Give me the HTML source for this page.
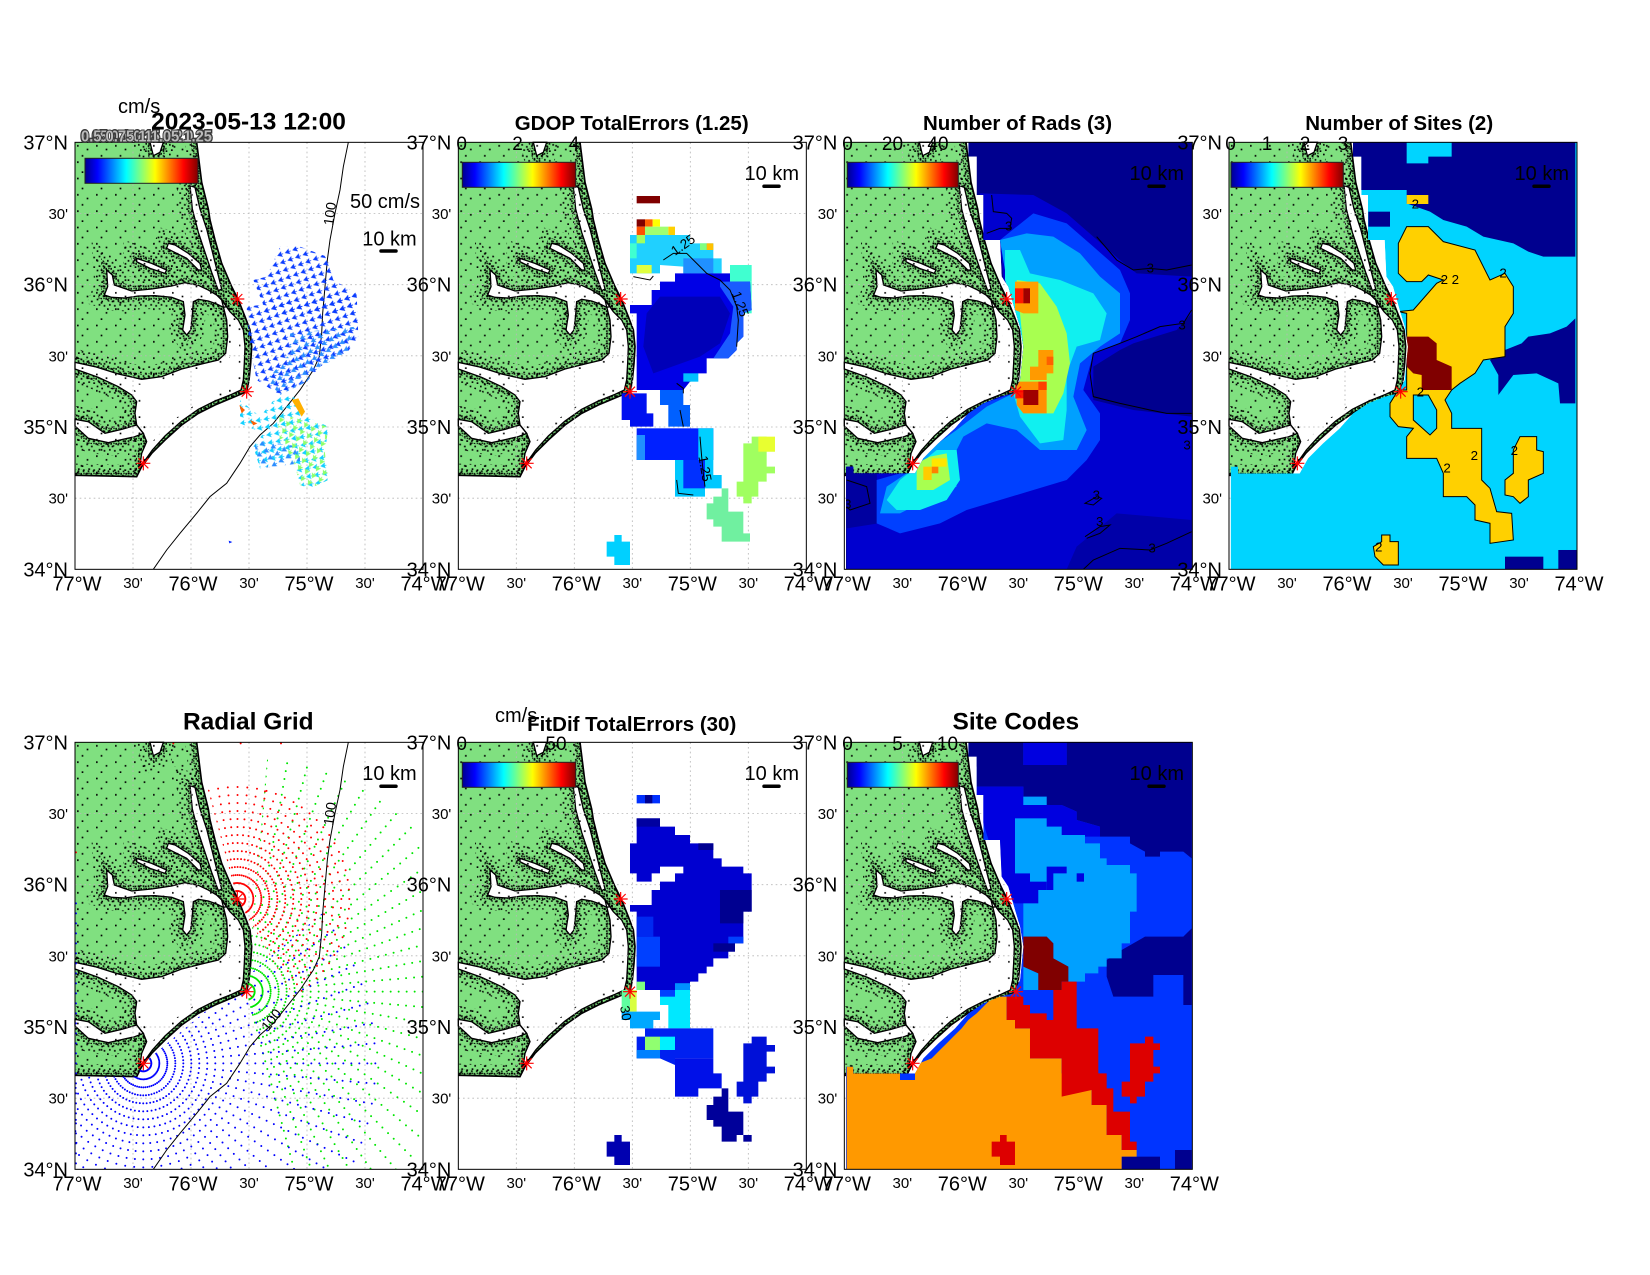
<!DOCTYPE html>
<html><head><meta charset="utf-8"><style>
html,body{margin:0;padding:0;background:#fff}
svg{display:block}
text{font-family:"Liberation Sans",Arial,Helvetica,sans-serif;fill:#000}
.b{font-size:20px}.s{font-size:15px}.e{text-anchor:end}.m{text-anchor:middle}
.t{font-weight:bold;text-anchor:middle}
.ct{font-size:19px;text-anchor:middle}
</style></head><body>
<svg width="1650" height="1275" viewBox="0 0 1650 1275" xmlns="http://www.w3.org/2000/svg">
<defs>
<linearGradient id="jet" x1="0" y1="0" x2="1" y2="0">
<stop offset="0" stop-color="#00008f"/><stop offset="0.11" stop-color="#0000ff"/><stop offset="0.365" stop-color="#00ffff"/><stop offset="0.62" stop-color="#ffff00"/><stop offset="0.873" stop-color="#ff0000"/><stop offset="1" stop-color="#800000"/>
</linearGradient>
<pattern id="dpA" width="15" height="15" patternUnits="userSpaceOnUse"><rect x="1" y="2" width="5" height="5" fill="#000"/><rect x="8" y="9" width="5" height="5" fill="#000"/><rect x="10" y="1" width="4" height="4" fill="#000"/></pattern>
<pattern id="dpB" width="31" height="29" patternUnits="userSpaceOnUse"><rect x="3" y="5" width="5" height="5" fill="#000"/><rect x="17" y="11" width="5" height="5" fill="#000"/><rect x="9" y="21" width="5" height="5" fill="#000"/><rect x="24" y="24" width="5" height="5" fill="#000"/></pattern>
<pattern id="dpC" width="57" height="49" patternUnits="userSpaceOnUse"><rect x="6" y="8" width="5" height="5" fill="#000"/><rect x="35" y="19" width="5" height="5" fill="#000"/><rect x="20" y="38" width="5" height="5" fill="#000"/></pattern>
<pattern id="arB" width="24" height="24" patternUnits="userSpaceOnUse" patternTransform="rotate(-20)"><path d="M3,12 L15,5 L13,12 L15,19 Z M13,12 H20" fill="#0a3cff" stroke="#0a3cff" stroke-width="2"/></pattern>
<pattern id="arL" width="24" height="24" patternUnits="userSpaceOnUse" patternTransform="rotate(-30) translate(5,7)"><path d="M3,12 L15,5 L13,12 L15,19 Z M13,12 H20" fill="#2a8cff" stroke="#2a8cff" stroke-width="2"/></pattern>
<pattern id="arC" width="24" height="24" patternUnits="userSpaceOnUse" patternTransform="rotate(-10)"><path d="M3,12 L15,5 L13,12 L15,19 Z M13,12 H20" fill="#10d0ff" stroke="#10d0ff" stroke-width="2"/></pattern>
<pattern id="arG" width="24" height="24" patternUnits="userSpaceOnUse" patternTransform="rotate(-60) translate(8,4)"><path d="M3,12 L15,5 L13,12 L15,19 Z M13,12 H20" fill="#8cff6a" stroke="#8cff6a" stroke-width="2"/></pattern>
<clipPath id="axc"><rect x="0" y="0" width="1044" height="1281"/></clipPath>
<clipPath id="lc"><path d="M0,0 L365,0 L380,120 L400,200 L405,233 L420,293 L440,363 L470,433 L490,473 L510,523 L525,563 L530,613 L527,663 L522,713 L515,748 L480,763 L420,788 L370,813 L320,848 L270,893 L230,933 L200,973 L185,1003 L0,999 Z"/></clipPath>
<mask id="lm" maskUnits="userSpaceOnUse" x="-10" y="-10" width="1070" height="1300">
<path d="M0,0 L365,0 L380,120 L400,200 L405,233 L420,293 L440,363 L470,433 L490,473 L510,523 L525,563 L530,613 L527,663 L522,713 L515,748 L480,763 L420,788 L370,813 L320,848 L270,893 L230,933 L200,973 L185,1003 L0,999 Z" fill="#fff"/>
<use href="#wat" fill="#000"/>
</mask>
<clipPath id="oc"><path d="M372,0 L1044,0 L1044,1281 L5,1281 L5,973 L27,973 L27,993 L167,993 L212,993 L237,948 L282,903 L332,858 L372,813 L417,783 L467,763 L507,753 L527,713 L537,613 L527,553 L512,503 L492,433 L472,403 L467,293 L417,293 L417,158 L397,158 L397,43 L372,43 Z"/></clipPath>
<clipPath id="seac"><path d="M365,0 L1044,0 L1044,1281 L0,1281 L0,1003 L185,1003 L200,973 L230,933 L270,893 L320,848 L370,813 L420,788 L480,763 L515,748 L522,713 L527,663 L530,613 L525,563 L510,523 L490,473 L470,433 L440,363 L420,293 L405,233 L400,200 L380,120 Z"/></clipPath>
<clipPath id="wA"><path d="M487,470 L383,84 L687,124 L873,367 L833,670 L687,816 Z"/></clipPath>
<clipPath id="wB"><path d="M515,748 L585,-49 L1081,182 L1312,678 L1170,1207 L695,1528 Z"/></clipPath>
<clipPath id="wC"><path d="M205,963 L818,449 L1005,963 L771,1529 L205,1763 L-361,1529 L-595,963 L-361,397 L-108,227 Z"/></clipPath>
<path id="oceanp" d="M372,0 L1044,0 L1044,1281 L5,1281 L5,973 L27,973 L27,993 L167,993 L212,993 L237,948 L282,903 L332,858 L372,813 L417,783 L467,763 L507,753 L527,713 L537,613 L527,553 L512,503 L492,433 L472,403 L467,293 L417,293 L417,158 L397,158 L397,43 L372,43 Z"/>
<path id="coast" d="M365,0 L380,120 L400,200 L405,233 L420,293 L440,363 L470,433 L490,473 L510,523 L525,563 L530,613 L527,663 L522,713 L515,748 L480,763 L420,788 L370,813 L320,848 L270,893 L230,933 L200,973 L185,1003 L0,999"/>
<g id="wat">
<path d="M95,383 L112,398 L118,428 L170,446 L230,440 L290,431 L330,421 L370,429 L400,443 L425,458 L445,478 L455,493 L445,495 L425,485 L400,476 L370,471 L355,478 L352,518 L347,563 L335,578 L323,563 L330,518 L325,478 L290,465 L240,460 L190,461 L150,467 L110,465 L88,458 L98,433 Z"/>
<path d="M440,473 L465,508 L490,533 L505,563 L510,613 L508,663 L505,713 L498,743 L470,756 L420,776 L370,801 L320,836 L270,881 L232,923 L205,961 L195,968 L200,933 L215,898 L205,873 L185,848 L180,813 L185,778 L170,758 L130,733 L70,705 L0,680 L0,660 L60,673 L130,695 L200,711 L260,703 L320,680 L380,665 L430,653 L452,633 L458,583 L455,533 Z"/>
<path d="M0,831 L40,838 L90,873 L140,861 L185,848 L205,873 L180,883 L100,901 L40,888 L0,851 Z"/>
<path d="M280,303 L300,308 L340,333 L375,363 L380,383 L370,383 L335,348 L295,328 L275,318 Z"/>
<path d="M185,348 L230,363 L275,383 L270,393 L225,378 L185,358 Z"/>
<path d="M345,130 L360,135 L375,200 L395,260 L410,320 L425,380 L440,440 L430,445 L410,390 L390,330 L370,270 L352,200 Z"/>
<path d="M225,0 L265,0 L255,30 L235,40 Z"/>
</g>
<g id="land">
<path d="M0,0 L365,0 L380,120 L400,200 L405,233 L420,293 L440,363 L470,433 L490,473 L510,523 L525,563 L530,613 L527,663 L522,713 L515,748 L480,763 L420,788 L370,813 L320,848 L270,893 L230,933 L200,973 L185,1003 L0,999 Z" fill="#80e080"/>
<use href="#wat" fill="#fff"/>
<g mask="url(#lm)">
<rect x="0" y="0" width="560" height="1010" fill="url(#dpC)"/>
<use href="#wat" fill="none" stroke="url(#dpB)" stroke-width="80"/>
<use href="#coast" fill="none" stroke="url(#dpB)" stroke-width="70"/>
<use href="#wat" fill="none" stroke="url(#dpA)" stroke-width="30"/>
<use href="#coast" fill="none" stroke="url(#dpA)" stroke-width="34"/>
</g>
<g clip-path="url(#lc)">
<use href="#wat" fill="none" stroke="url(#dpC)" stroke-width="34"/>
</g>
<use href="#wat" fill="none" stroke="#000" stroke-width="4"/>
<use href="#coast" fill="none" stroke="#000" stroke-width="5"/>
</g>
<g id="grid"><path d="M174,0V1281M348,0V1281M522,0V1281M696,0V1281M870,0V1281M0,213.5H1044M0,427H1044M0,640.5H1044M0,854H1044M0,1067.5H1044" stroke="#b8b8b8" stroke-width="2.5" stroke-dasharray="5 9" fill="none"/></g>
<g id="sites"><path d="M466,470h42M487,449v42M472,455l30,30M502,455l-30,30M494,748h42M515,727v42M500,733l30,30M530,733l-30,30M184,963h42M205,942v42M190,948l30,30M220,948l-30,30" stroke="#f00" stroke-width="3.5" fill="none"/></g>
<path id="c100" d="M820,0 L805,73 L795,143 L780,213 L765,293 L757,353 L750,433 L743,513 L740,573 L733,643 L715,683 L675,743 L635,793 L595,843 L555,878 L525,913 L495,963 L455,1023 L405,1063 L365,1113 L315,1173 L275,1223 L235,1281" fill="none" stroke="#000" stroke-width="3"/>
<rect id="frame" x="0" y="0" width="1044" height="1281" fill="none" stroke="#000" stroke-width="3"/>
</defs>

<!-- ============ PANEL 1 ============ -->
<g transform="translate(75,142.33) scale(0.33333)">
<use href="#land"/><use href="#grid"/>
<g clip-path="url(#axc)">
<use href="#c100"/>
<g transform="translate(-225,-187)">
<path d="M840,500 L900,500 L980,530 L1000,600 L1070,640 L1070,700 L800,700 L760,600 L800,590 Z" fill="url(#arB)"/>
<path d="M740,680 L1070,640 L1075,770 L1040,820 L960,860 L920,905 L840,945 L770,900 L750,800 L745,760 Z" fill="url(#arB)"/>
<path d="M870,760 L1070,740 L1040,820 L960,860 L920,905 L840,945 L800,900 L870,820 Z" fill="url(#arL)"/>
<path d="M720,960 L780,1010 L830,950 L880,950 L920,1010 L985,1040 L975,1120 L985,1200 L930,1225 L900,1215 L880,1140 L780,1165 L760,1100 L790,1060 L720,1030 Z" fill="url(#arC)"/>
<path d="M760,1080 L900,1100 L900,1150 L780,1165 Z" fill="url(#arL)"/>
<path d="M830,1000 L985,1040 L975,1120 L985,1200 L930,1225 L900,1215 L880,1140 L840,1080 Z" fill="url(#arG)"/>
<path d="M875,960 L895,955 L915,995 L905,1010 Z" fill="#ffb000"/>
<path d="M718,975 L735,990 L725,1000 Z M750,1020 L772,1030 L760,1036 Z" fill="#ff6000"/>
<path d="M686,1382 L697,1386 L688,1390 Z" fill="#0020ff"/>
</g></g>
<use href="#sites"/><use href="#frame"/>
</g>

<!-- ============ PANEL 2 ============ -->
<g transform="translate(458.33,142.33) scale(0.33333)">
<use href="#land"/><use href="#grid"/>
<g clip-path="url(#axc)"><g transform="translate(-115,-187)">
<rect x="650" y="348" width="70" height="22" fill="#800000"/>
<path d="M630,465 L810,465 L810,490 L880,490 L880,535 L905,535 L905,580 L790,580 L790,560 L720,555 L720,580 L630,580 Z" fill="#20d0ff"/>
<rect x="630" y="490" width="20" height="45" fill="#40ffd0"/>
<rect x="650" y="555" width="45" height="25" fill="#e0ff40"/>
<rect x="840" y="490" width="20" height="20" fill="#80ff80"/>
<rect x="860" y="490" width="20" height="20" fill="#ffc000"/>
<rect x="790" y="535" width="90" height="45" fill="#2090ff"/>
<rect x="650" y="465" width="25" height="25" fill="#a0ff60"/>
<rect x="650" y="418" width="25" height="22" fill="#800000"/>
<rect x="675" y="418" width="23" height="22" fill="#ff6000"/>
<rect x="698" y="418" width="22" height="22" fill="#ffff00"/>
<rect x="650" y="440" width="25" height="25" fill="#ff5000"/>
<rect x="675" y="440" width="70" height="25" fill="#a0ff70"/>
<rect x="745" y="440" width="20" height="25" fill="#ffd000"/>
<rect x="930" y="555" width="65" height="50" fill="#40ffd0"/>
<rect x="970" y="605" width="25" height="95" fill="#40ffd0"/>
<path d="M765,580 L930,580 L930,605 L990,605 L995,690 L970,700 L970,770 L950,790 L950,810 L925,835 L860,835 L860,880 L835,880 L810,905 L790,930 L650,930 L650,700 L630,700 L630,675 L695,675 L695,630 L720,630 L720,605 L765,605 Z" fill="#0000e6"/>
<path d="M720,650 L900,650 L930,700 L900,790 L840,830 L700,880 L670,800 L680,700 Z" fill="#0000b8"/>
<path d="M900,605 L990,605 L995,690 L970,700 L970,770 L950,790 L950,810 L925,835 L880,835 L930,760 L940,680 L900,620 Z" fill="#1a5cff"/>
<rect x="790" y="880" width="45" height="25" fill="#00c0ff"/>
<path d="M605,940 L680,940 L680,1000 L700,1000 L700,1040 L630,1040 L630,1020 L605,1020 Z" fill="#0010f0"/>
<path d="M720,930 L790,930 L790,975 L810,975 L810,1040 L745,1040 L745,975 L720,975 Z" fill="#0060ff"/>
<rect x="650" y="1045" width="230" height="95" fill="#0020ff"/>
<rect x="650" y="1065" width="25" height="75" fill="#2090ff"/>
<rect x="835" y="1045" width="45" height="95" fill="#00d0ff"/>
<path d="M765,1140 L880,1140 L880,1185 L905,1185 L905,1225 L855,1225 L855,1250 L765,1250 Z" fill="#00c8ff"/>
<rect x="790" y="1140" width="65" height="85" fill="#0030ff"/>
<path d="M583,1365 L605,1365 L605,1385 L630,1385 L630,1455 L583,1455 L583,1430 L560,1430 L560,1385 L583,1385 Z" fill="#00d0ff"/>
<path d="M995,1070 L1040,1070 L1040,1090 L1065,1090 L1065,1115 L1040,1115 L1040,1160 L1065,1160 L1065,1180 L1040,1180 L1040,1205 L1015,1205 L1015,1250 L995,1250 L995,1270 L970,1270 L970,1250 L950,1250 L950,1205 L970,1205 L970,1090 L995,1090 Z" fill="#a0ff60"/>
<rect x="1015" y="1070" width="50" height="45" fill="#e8ff30"/>
<path d="M905,1225 L925,1225 L925,1295 L970,1295 L970,1360 L990,1360 L990,1385 L905,1385 L905,1340 L880,1340 L880,1318 L860,1318 L860,1270 L880,1270 L880,1250 L905,1250 Z" fill="#70f0a0"/>
<g fill="none" stroke="#000" stroke-width="3">
<path d="M640,590 L690,600 L700,588"/>
<path d="M730,540 L760,520 L800,520 L840,560 L860,580 L900,600 L930,630 L950,680 L955,720 L950,800"/>
<path d="M770,910 L790,925 L790,940 M780,990 L790,1040"/>
<path d="M840,1070 L845,1130 L850,1180 L855,1220"/>
<path d="M770,1200 L775,1240 L820,1245"/>
</g>
<text x="765" y="528" font-size="40" transform="rotate(-35 765 528)">1.25</text>
<text x="935" y="640" font-size="40" transform="rotate(70 935 640)">1.25</text>
<text x="835" y="1130" font-size="40" transform="rotate(80 835 1130)">1.25</text>
</g></g>
<use href="#sites"/><use href="#frame"/>
</g>

<!-- ============ PANEL 3 ============ -->
<g transform="translate(844.33,142.33) scale(0.33333)">
<use href="#land"/><use href="#grid"/>
<g clip-path="url(#oc)">
<use href="#oceanp" fill="#00008f"/>
<g transform="translate(-133,-187)">
<path d="M540,340 L700,345 L800,400 L880,470 L960,540 L1010,580 L1175,590 L1175,700 L1130,750 L1000,790 L960,810 L880,860 L880,960 L1000,990 L1175,1010 L1175,1468 L140,1468 L140,1150 L500,980 L600,940 L640,930 L600,480 L540,480 Z" fill="#0000cf"/>
<path d="M140,1160 L230,1180 L235,1330 L140,1345 Z" fill="#0000a0"/>
<path d="M800,1468 L830,1400 L950,1300 L1175,1320 L1175,1468 Z" fill="#0000a8"/>
<path d="M600,480 L700,400 L800,430 L880,500 L960,570 L990,640 L990,720 L960,790 L880,820 L850,930 L900,1000 L900,1080 L860,1140 L800,1200 L700,1230 L600,1260 L500,1290 L420,1330 L300,1360 L230,1330 L230,1200 L300,1180 L345,1180 L370,1135 L415,1090 L465,1045 L505,1000 L550,970 L640,940 L660,900 L670,800 L645,690 L620,600 Z" fill="#0040ff"/>
<path d="M600,480 L680,460 L760,470 L840,520 L900,590 L960,640 L960,760 L900,800 L840,850 L820,950 L860,1050 L830,1110 L720,1110 L650,1050 L560,1030 L490,1070 L460,1130 L470,1220 L400,1250 L300,1300 L240,1300 L260,1220 L350,1160 L400,1100 L470,1050 L560,980 L640,940 L660,900 L670,800 L645,690 L620,600 Z" fill="#00a0ff"/>
<path d="M615,510 L660,510 L690,580 L780,600 L880,640 L920,700 L900,780 L830,800 L800,880 L800,990 L790,1080 L720,1090 L660,1010 L640,940 L660,900 L670,800 L645,690 L615,600 Z" fill="#10f0f0"/>
<path d="M350,1160 L410,1110 L470,1110 L480,1200 L440,1260 L360,1290 L290,1290 L260,1260 L300,1200 Z" fill="#10f0f0"/>
<path d="M650,600 L720,610 L770,680 L800,760 L810,850 L790,940 L760,1000 L680,1000 L650,960 L660,900 L670,800 L660,700 Z" fill="#a8ff50"/>
<path d="M350,1150 L390,1130 L440,1120 L450,1200 L400,1230 L350,1230 Z" fill="#a8ff50"/>
<path d="M645,605 L715,605 L715,700 L670,700 L645,690 Z" fill="#ffa000"/>
<path d="M715,810 L760,810 L760,880 L740,880 L740,900 L690,900 L690,860 L715,860 Z" fill="#ff9a00"/>
<path d="M650,905 L740,905 L740,1000 L670,1000 L650,975 Z" fill="#ff9000"/>
<rect x="645" y="625" width="25" height="45" fill="#ff1a00"/>
<rect x="650" y="930" width="40" height="25" fill="#ff1a00"/>
<rect x="715" y="905" width="25" height="25" fill="#ff4000"/>
<rect x="740" y="830" width="20" height="25" fill="#ff6000"/>
<rect x="670" y="625" width="20" height="45" fill="#a00000"/>
<rect x="670" y="930" width="45" height="45" fill="#a00000"/>
<rect x="395" y="1135" width="45" height="25" fill="#ffe600"/>
<rect x="395" y="1160" width="20" height="20" fill="#ff8000"/>
<rect x="370" y="1160" width="25" height="40" fill="#ffcc00"/>
<g fill="none" stroke="#000" stroke-width="3">
<path d="M560,460 L600,445 L630,445 L635,415 L620,400 L580,395 L575,345"/>
<path d="M890,470 L950,540 L1000,570 L1050,565 L1100,570 L1175,555"/>
<path d="M1175,690 L1150,730 L1080,740 L1010,770 L960,790 L880,820 L870,880 L880,950 L960,970 L1050,990 L1100,1000 L1175,1000"/>
<path d="M1175,1355 L1100,1390 L1050,1410 L960,1405 L880,1440 L850,1468"/>
<path d="M855,1370 L900,1340 L930,1335 L900,1360 L860,1375"/>
<path d="M855,1270 L890,1250 L905,1255 L880,1275 Z"/>
<path d="M140,1200 L200,1220 L210,1270 L150,1290 L140,1280"/>
</g>
<g font-size="40"><text x="615" y="452">3</text><text x="1040" y="578">3</text><text x="1135" y="748">3</text><text x="1150" y="1108">3</text><text x="878" y="1258">3</text><text x="888" y="1338">3</text><text x="1045" y="1418">3</text><text x="132" y="1285">3</text></g>
</g></g>
<use href="#sites"/><use href="#frame"/>
</g>

<!-- ============ PANEL 4 ============ -->
<g transform="translate(1229,142.33) scale(0.33333)">
<use href="#land"/><use href="#grid"/>
<g clip-path="url(#oc)">
<use href="#oceanp" fill="#00d4ff"/>
<g transform="translate(-237,-187)">
<path d="M600,187 L1276,187 L1276,530 L1180,530 L1135,515 L1090,490 L1000,470 L950,440 L880,420 L840,395 L770,370 L770,330 L630,330 L600,300 Z" fill="#00008f"/>
<path d="M770,187 L905,187 L905,230 L835,230 L835,250 L770,250 Z" fill="#00d4ff"/>
<rect x="655" y="395" width="65" height="45" fill="#00008f"/>
<path d="M1135,770 L1200,760 L1250,740 L1276,715 L1276,970 L1230,970 L1225,910 L1160,880 L1090,885 L1045,945 L1045,885 L1020,840 L1065,810 L1115,790 Z" fill="#00008f"/>
<rect x="1065" y="1430" width="115" height="40" fill="#00008f"/>
<rect x="1225" y="1410" width="55" height="60" fill="#00008f"/>
<g fill="#ffd000" stroke="#000" stroke-width="3">
<path d="M770,440 L835,440 L880,485 L975,510 L1000,560 L1020,600 L1065,580 L1090,620 L1090,700 L1065,740 L1065,830 L1000,840 L975,880 L930,910 L905,930 L885,960 L905,1000 L905,1045 L995,1045 L995,1200 L1020,1225 L1040,1295 L1085,1300 L1090,1380 L1020,1390 L1020,1330 L975,1320 L975,1275 L950,1250 L880,1250 L880,1180 L860,1135 L770,1135 L770,1070 L790,1045 L745,1040 L720,1010 L720,970 L745,930 L770,930 L770,700 L745,695 L790,690 L860,610 L880,600 L835,585 L815,605 L770,605 L745,580 L745,490 Z"/>
<path d="M1110,1070 L1160,1070 L1160,1110 L1180,1115 L1180,1180 L1135,1200 L1135,1250 L1110,1270 L1090,1250 L1065,1245 L1065,1200 L1090,1180 L1090,1110 Z"/>
<path d="M695,1365 L720,1365 L720,1385 L745,1385 L745,1455 L700,1455 L675,1430 L670,1400 L695,1385 Z"/>
<path d="M770,345 L835,345 L835,372 L770,372 Z" stroke="none"/>
</g>
<path d="M790,945 L835,945 L860,990 L860,1045 L840,1065 L790,1020 Z" fill="#00d4ff" stroke="#000" stroke-width="3"/>
<path d="M770,770 L835,770 L860,790 L860,840 L905,860 L905,930 L815,930 L815,885 L790,880 L770,860 Z" fill="#800000"/>
<g font-size="40"><text x="785" y="385">2</text><text x="872" y="612">2</text><text x="905" y="612">2</text><text x="1048" y="592">2</text><text x="800" y="950">2</text><text x="962" y="1140">2</text><text x="880" y="1178">2</text><text x="1082" y="1125">2</text><text x="675" y="1415">2</text></g>
</g></g>
<use href="#sites"/><use href="#frame"/>
</g>

<!-- ============ PANEL 5 ============ -->
<g transform="translate(75,742.33) scale(0.33333)">
<use href="#land"/><use href="#grid"/>
<g clip-path="url(#seac)" fill="none" stroke-linecap="round" stroke-width="6">
<g clip-path="url(#wB)" stroke="#00e600">
<circle cx="515" cy="748" r="24" stroke-dasharray="0 2.094"/><circle cx="515" cy="748" r="48" stroke-dasharray="0 4.189"/><circle cx="515" cy="748" r="72" stroke-dasharray="0 6.283"/><circle cx="515" cy="748" r="96" stroke-dasharray="0 8.378"/><circle cx="515" cy="748" r="120" stroke-dasharray="0 10.472"/><circle cx="515" cy="748" r="144" stroke-dasharray="0 12.566"/><circle cx="515" cy="748" r="168" stroke-dasharray="0 14.661"/><circle cx="515" cy="748" r="192" stroke-dasharray="0 16.755"/><circle cx="515" cy="748" r="216" stroke-dasharray="0 18.85"/><circle cx="515" cy="748" r="240" stroke-dasharray="0 20.944"/><circle cx="515" cy="748" r="264" stroke-dasharray="0 23.038"/><circle cx="515" cy="748" r="288" stroke-dasharray="0 25.133"/><circle cx="515" cy="748" r="312" stroke-dasharray="0 27.227"/><circle cx="515" cy="748" r="336" stroke-dasharray="0 29.322"/><circle cx="515" cy="748" r="360" stroke-dasharray="0 31.416"/><circle cx="515" cy="748" r="384" stroke-dasharray="0 33.51"/><circle cx="515" cy="748" r="408" stroke-dasharray="0 35.605"/><circle cx="515" cy="748" r="432" stroke-dasharray="0 37.699"/><circle cx="515" cy="748" r="456" stroke-dasharray="0 39.794"/><circle cx="515" cy="748" r="480" stroke-dasharray="0 41.888"/><circle cx="515" cy="748" r="504" stroke-dasharray="0 43.982"/><circle cx="515" cy="748" r="528" stroke-dasharray="0 46.077"/><circle cx="515" cy="748" r="552" stroke-dasharray="0 48.171"/><circle cx="515" cy="748" r="576" stroke-dasharray="0 50.265"/><circle cx="515" cy="748" r="600" stroke-dasharray="0 52.36"/><circle cx="515" cy="748" r="624" stroke-dasharray="0 54.454"/><circle cx="515" cy="748" r="648" stroke-dasharray="0 56.549"/><circle cx="515" cy="748" r="672" stroke-dasharray="0 58.643"/><circle cx="515" cy="748" r="696" stroke-dasharray="0 60.737"/>
</g>
<g clip-path="url(#wC)" stroke="#0000ff">
<circle cx="205" cy="963" r="24" stroke-dasharray="0 2.094"/><circle cx="205" cy="963" r="48" stroke-dasharray="0 4.189"/><circle cx="205" cy="963" r="72" stroke-dasharray="0 6.283"/><circle cx="205" cy="963" r="96" stroke-dasharray="0 8.378"/><circle cx="205" cy="963" r="120" stroke-dasharray="0 10.472"/><circle cx="205" cy="963" r="144" stroke-dasharray="0 12.566"/><circle cx="205" cy="963" r="168" stroke-dasharray="0 14.661"/><circle cx="205" cy="963" r="192" stroke-dasharray="0 16.755"/><circle cx="205" cy="963" r="216" stroke-dasharray="0 18.85"/><circle cx="205" cy="963" r="240" stroke-dasharray="0 20.944"/><circle cx="205" cy="963" r="264" stroke-dasharray="0 23.038"/><circle cx="205" cy="963" r="288" stroke-dasharray="0 25.133"/><circle cx="205" cy="963" r="312" stroke-dasharray="0 27.227"/><circle cx="205" cy="963" r="336" stroke-dasharray="0 29.322"/><circle cx="205" cy="963" r="360" stroke-dasharray="0 31.416"/><circle cx="205" cy="963" r="384" stroke-dasharray="0 33.51"/><circle cx="205" cy="963" r="408" stroke-dasharray="0 35.605"/><circle cx="205" cy="963" r="432" stroke-dasharray="0 37.699"/><circle cx="205" cy="963" r="456" stroke-dasharray="0 39.794"/><circle cx="205" cy="963" r="480" stroke-dasharray="0 41.888"/><circle cx="205" cy="963" r="504" stroke-dasharray="0 43.982"/><circle cx="205" cy="963" r="528" stroke-dasharray="0 46.077"/><circle cx="205" cy="963" r="552" stroke-dasharray="0 48.171"/><circle cx="205" cy="963" r="576" stroke-dasharray="0 50.265"/><circle cx="205" cy="963" r="600" stroke-dasharray="0 52.36"/><circle cx="205" cy="963" r="624" stroke-dasharray="0 54.454"/><circle cx="205" cy="963" r="648" stroke-dasharray="0 56.549"/><circle cx="205" cy="963" r="672" stroke-dasharray="0 58.643"/><circle cx="205" cy="963" r="696" stroke-dasharray="0 60.737"/>
</g>
<g clip-path="url(#wA)" stroke="#ff0000">
<circle cx="487" cy="470" r="24" stroke-dasharray="0 2.094"/><circle cx="487" cy="470" r="48" stroke-dasharray="0 4.189"/><circle cx="487" cy="470" r="72" stroke-dasharray="0 6.283"/><circle cx="487" cy="470" r="96" stroke-dasharray="0 8.378"/><circle cx="487" cy="470" r="120" stroke-dasharray="0 10.472"/><circle cx="487" cy="470" r="144" stroke-dasharray="0 12.566"/><circle cx="487" cy="470" r="168" stroke-dasharray="0 14.661"/><circle cx="487" cy="470" r="192" stroke-dasharray="0 16.755"/><circle cx="487" cy="470" r="216" stroke-dasharray="0 18.85"/><circle cx="487" cy="470" r="240" stroke-dasharray="0 20.944"/><circle cx="487" cy="470" r="264" stroke-dasharray="0 23.038"/><circle cx="487" cy="470" r="288" stroke-dasharray="0 25.133"/><circle cx="487" cy="470" r="312" stroke-dasharray="0 27.227"/><circle cx="487" cy="470" r="336" stroke-dasharray="0 29.322"/>
</g>
</g>
<line x1="3" y1="483" x2="3" y2="1281" stroke="#0000ff" stroke-width="6" stroke-linecap="round" stroke-dasharray="0 30"/>
<g fill="#f00"><circle cx="295" cy="3" r="3"/><circle cx="497" cy="3" r="3"/><circle cx="618" cy="3" r="3"/><circle cx="570" cy="147" r="3"/><circle cx="3" cy="330" r="3"/></g>
<use href="#c100"/>
<use href="#sites"/><use href="#frame"/>
</g>

<!-- ============ PANEL 6 ============ -->
<g transform="translate(458.33,742.33) scale(0.33333)">
<use href="#land"/><use href="#grid"/>
<g clip-path="url(#axc)"><g transform="translate(-115,-157)">
<path d="M650,315 L720,315 L720,340 L650,340 Z" fill="#0030ff"/>
<rect x="675" y="315" width="22" height="25" fill="#000090"/>
<path d="M650,385 L720,385 L720,410 L765,410 L765,435 L810,435 L810,460 L880,460 L880,505 L905,505 L905,530 L970,530 L970,550 L995,550 L995,665 L970,665 L970,760 L945,760 L945,785 L925,785 L925,805 L880,805 L880,830 L860,830 L860,850 L835,850 L835,875 L810,875 L810,900 L650,900 L650,665 L630,665 L630,645 L695,645 L695,600 L720,600 L720,575 L765,575 L765,550 L790,550 L790,530 L720,530 L720,550 L695,550 L695,575 L650,575 L650,550 L630,550 L630,460 L650,460 Z" fill="#0000d0"/>
<rect x="650" y="740" width="70" height="90" fill="#0040ff"/>
<rect x="650" y="680" width="50" height="60" fill="#0028f0"/>
<path d="M900,600 L995,600 L995,665 L970,665 L970,700 L900,700 Z" fill="#000090"/>
<rect x="835" y="460" width="45" height="20" fill="#000090"/>
<rect x="650" y="385" width="70" height="25" fill="#0000a0"/>
<rect x="880" y="760" width="65" height="25" fill="#000090"/>
<rect x="925" y="740" width="45" height="20" fill="#0040ff"/>
<rect x="650" y="875" width="25" height="25" fill="#80ff80"/>
<rect x="630" y="900" width="20" height="65" fill="#d8ff40"/>
<rect x="605" y="900" width="25" height="65" fill="#60ffa0"/>
<path d="M605,965 L720,965 L720,990 L700,990 L700,1015 L630,1015 L630,990 L605,990 Z" fill="#00a8ff"/>
<path d="M765,880 L810,880 L810,1015 L745,1015 L745,945 L720,945 L720,900 L765,900 Z" fill="#00e8ff"/>
<rect x="720" y="900" width="45" height="20" fill="#0040ff"/>
<rect x="765" y="880" width="45" height="20" fill="#0090ff"/>
<path d="M675,1015 L880,1015 L880,1105 L765,1105 L765,1125 L720,1105 L650,1105 L650,1040 L675,1040 Z" fill="#0020f0"/>
<rect x="675" y="1040" width="45" height="40" fill="#90ff70"/>
<rect x="720" y="1040" width="45" height="40" fill="#00f0ff"/>
<rect x="650" y="1080" width="70" height="25" fill="#0080ff"/>
<path d="M765,1105 L880,1105 L880,1150 L905,1150 L905,1195 L835,1195 L835,1220 L765,1220 Z" fill="#0010e8"/>
<path d="M905,1195 L925,1195 L925,1265 L970,1265 L970,1335 L950,1335 L950,1355 L905,1355 L905,1310 L880,1310 L880,1290 L860,1290 L860,1245 L880,1245 L880,1220 L905,1220 Z" fill="#00009a"/>
<path d="M995,1040 L1040,1040 L1040,1065 L1065,1065 L1065,1085 L1040,1085 L1040,1130 L1065,1130 L1065,1150 L1040,1150 L1040,1175 L1015,1175 L1015,1220 L995,1220 L995,1240 L970,1240 L970,1220 L950,1220 L950,1175 L970,1175 L970,1060 L995,1060 Z" fill="#0010d8"/>
<rect x="970" y="1335" width="25" height="20" fill="#00009a"/>
<path d="M583,1335 L605,1335 L605,1355 L630,1355 L630,1425 L583,1425 L583,1400 L560,1400 L560,1355 L583,1355 Z" fill="#0000b0"/>
<text x="600" y="950" font-size="40" transform="rotate(80 600 950)">30</text>
</g></g>
<use href="#sites"/><use href="#frame"/>
</g>

<!-- ============ PANEL 7 ============ -->
<g transform="translate(844.33,742.33) scale(0.33333)">
<use href="#land"/><use href="#grid"/>
<g clip-path="url(#oc)">
<use href="#oceanp" fill="#0034ff"/>
<g transform="translate(-133,-157)">
<path d="M505,157 L670,157 L670,225 L800,225 L800,157 L1175,157 L1175,505 L1150,485 L1080,485 L1080,500 L1035,500 L1035,485 L990,460 L990,440 L900,440 L900,410 L830,390 L830,365 L785,345 L740,345 L740,320 L670,320 L670,290 L530,290 L530,230 L505,230 Z" fill="#00008f"/>
<rect x="670" y="157" width="130" height="68" fill="#0000e0"/>
<path d="M965,780 L1035,740 L1150,740 L1175,715 L1175,945 L1150,945 L1150,855 L1060,855 L1060,920 L940,920 L920,860 L920,810 Z" fill="#00008f"/>
<rect x="965" y="1400" width="115" height="45" fill="#00008f"/>
<path d="M1125,1380 L1175,1380 L1175,1445 L1125,1445 Z" fill="#00008f"/>
<path d="M530,290 L670,290 L670,345 L645,345 L645,550 L690,550 L690,575 L740,575 L740,600 L715,600 L715,640 L645,640 L620,620 L600,550 L575,480 L550,400 L530,345 Z" fill="#0000e0"/>
<path d="M740,345 L785,345 L830,365 L830,390 L900,410 L900,440 L855,440 L855,435 L785,435 L785,410 L740,410 L740,385 L645,385 L645,345 Z" fill="#0000e0"/>
<path d="M645,385 L740,385 L740,410 L785,410 L785,435 L855,435 L855,460 L900,460 L900,505 L920,505 L920,525 L990,525 L990,550 L1010,550 L1010,665 L990,665 L990,760 L965,760 L965,805 L920,805 L920,830 L895,830 L895,850 L855,850 L855,875 L805,875 L805,830 L760,805 L760,760 L740,740 L670,740 L670,640 L715,640 L715,600 L740,600 L740,575 L690,575 L690,550 L645,550 Z" fill="#00a0ff"/>
<rect x="670" y="320" width="70" height="25" fill="#00a0ff"/>
<path d="M670,830 L715,850 L715,900 L670,900 Z" fill="#00a0ff"/>
<path d="M740,530 L800,530 L800,550 L760,550 L760,600 L740,600 Z" fill="#0000e0"/>
<rect x="830" y="550" width="22" height="25" fill="#0000e0"/>
<path d="M670,740 L740,740 L760,760 L760,805 L805,830 L805,875 L785,875 L785,900 L715,900 L715,850 L670,830 Z" fill="#800000"/>
<path d="M140,1130 L160,1130 L160,1150 L300,1150 L300,1170 L345,1170 L345,1125 L395,1105 L415,1085 L440,1060 L460,1040 L485,1015 L505,990 L530,970 L555,945 L580,920 L620,920 L620,990 L645,990 L645,1015 L690,1015 L690,1105 L785,1105 L785,1150 L805,1150 L805,1200 L875,1200 L875,1245 L920,1245 L920,1335 L965,1335 L965,1380 L1010,1380 L1010,1400 L965,1400 L965,1440 L140,1440 Z" fill="#ff9900"/>
<rect x="140" y="990" width="20" height="25" fill="#ff9900"/>
<path d="M620,920 L670,920 L670,945 L690,945 L690,970 L740,970 L740,990 L760,990 L760,900 L785,900 L785,875 L830,875 L830,1015 L895,1015 L895,1150 L920,1150 L920,1195 L940,1195 L940,1265 L990,1265 L990,1355 L1010,1355 L1010,1380 L965,1380 L965,1335 L920,1335 L920,1245 L875,1245 L875,1200 L785,1220 L785,1105 L690,1105 L690,1015 L645,1015 L645,990 L620,990 Z" fill="#dd0000"/>
<path d="M990,1060 L1035,1060 L1035,1040 L1060,1040 L1060,1060 L1080,1060 L1080,1080 L1060,1080 L1060,1130 L1080,1130 L1080,1150 L1060,1150 L1060,1175 L1035,1175 L1035,1220 L1010,1220 L1010,1240 L990,1240 L990,1220 L965,1220 L965,1175 L990,1175 Z" fill="#dd0000"/>
<path d="M600,1335 L620,1335 L620,1355 L645,1355 L645,1425 L600,1425 L600,1400 L575,1400 L575,1355 L600,1355 Z" fill="#dd0000"/>
</g></g>
<use href="#sites"/><use href="#frame"/>
</g>

<!-- ============ COLORBARS ============ -->
<g stroke="#222" stroke-width="1" fill="url(#jet)">
<rect x="85" y="158.3" width="113" height="25"/>
<rect x="462.3" y="162.3" width="113.4" height="25"/>
<rect x="847.3" y="162.3" width="111" height="25"/>
<rect x="1231" y="162.3" width="112.3" height="25"/>
<rect x="462.3" y="762.3" width="113.4" height="25"/>
<rect x="847.3" y="762.3" width="111" height="25"/>
</g>

<!-- garbled P1 colorbar labels -->
<g font-size="16" font-weight="bold">
<text x="81" y="141.5" textLength="131" lengthAdjust="spacingAndGlyphs" style="fill:#bbb;stroke:#3a3a3a;stroke-width:3;paint-order:stroke">0.05 0.1 0.15 0.2 0.25</text>
<text x="81" y="141.5" textLength="131" lengthAdjust="spacingAndGlyphs" style="fill:#bbb;stroke:#3a3a3a;stroke-width:2;paint-order:stroke">0.5 0.75 1 1.05 1.25</text>
</g>

<!-- colorbar tick labels -->
<text class="ct" x="461.7" y="150">0</text><text class="ct" x="517.5" y="150">2</text><text class="ct" x="574" y="150">4</text>
<text class="ct" x="847.5" y="150">0</text><text class="ct" x="892.5" y="150">20</text><text class="ct" x="938" y="150">40</text>
<text class="ct" x="1230.5" y="150">0</text><text class="ct" x="1267" y="150">1</text><text class="ct" x="1305" y="150">2</text><text class="ct" x="1343" y="150">3</text>
<text class="ct" x="461.7" y="750">0</text><text class="ct" x="556" y="750">50</text>
<text class="ct" x="847.5" y="750">0</text><text class="ct" x="897.5" y="750">5</text><text class="ct" x="947.5" y="750">10</text>

<!-- titles -->
<text x="118" y="113" style="font-size:20px">cm/s</text>
<text class="t" x="248.5" y="129.5" style="font-size:24.5px">2023-05-13 12:00</text>
<text class="t" x="631.7" y="130" style="font-size:20.5px">GDOP TotalErrors (1.25)</text>
<text class="t" x="1017.5" y="130" style="font-size:20.5px">Number of Rads (3)</text>
<text class="t" x="1399.2" y="130" style="font-size:20.5px">Number of Sites (2)</text>
<text class="t" x="248.3" y="729.5" style="font-size:24.5px">Radial Grid</text>
<text x="495" y="722" style="font-size:20px">cm/s</text>
<text class="t" x="631.7" y="731" style="font-size:20.5px">FitDif TotalErrors (30)</text>
<text class="t" x="1015.8" y="729.5" style="font-size:24.5px">Site Codes</text>

<!-- scale bars & km labels -->
<text class="b" x="350" y="208">50 cm/s</text>
<text class="b e" x="416.7" y="245.5">10 km</text>
<text class="b e" x="799" y="180">10 km</text>
<text class="b e" x="1184" y="180">10 km</text>
<text class="b e" x="1569" y="180">10 km</text>
<text class="b e" x="416.7" y="780">10 km</text>
<text class="b e" x="799" y="780">10 km</text>
<text class="b e" x="1184" y="780">10 km</text>
<g stroke="#000" stroke-width="3.5" stroke-linecap="round">
<path d="M381,251H396M764,186.3H779M1149,186.3H1164M1534,186.3H1549M381,786.3H396M764,786.3H779M1149,786.3H1164"/>
</g>
<text x="333" y="226" font-size="14" transform="rotate(-82 333 226)">100</text>
<text x="333" y="826" font-size="14" transform="rotate(-82 333 826)">100</text>
<text x="268" y="1032" font-size="14" transform="rotate(-52 268 1032)">100</text>

<!-- Y labels -->
<g>
<text class="b e" x="68" y="149.5">37°N</text><text class="s e" x="68" y="219">30'</text><text class="b e" x="68" y="291.5">36°N</text><text class="s e" x="68" y="361.5">30'</text><text class="b e" x="68" y="434">35°N</text><text class="s e" x="68" y="503.5">30'</text><text class="b e" x="68" y="576.5">34°N</text>
<text class="b e" x="451.3" y="149.5">37°N</text><text class="s e" x="451.3" y="219">30'</text><text class="b e" x="451.3" y="291.5">36°N</text><text class="s e" x="451.3" y="361.5">30'</text><text class="b e" x="451.3" y="434">35°N</text><text class="s e" x="451.3" y="503.5">30'</text><text class="b e" x="451.3" y="576.5">34°N</text>
<text class="b e" x="837.3" y="149.5">37°N</text><text class="s e" x="837.3" y="219">30'</text><text class="b e" x="837.3" y="291.5">36°N</text><text class="s e" x="837.3" y="361.5">30'</text><text class="b e" x="837.3" y="434">35°N</text><text class="s e" x="837.3" y="503.5">30'</text><text class="b e" x="837.3" y="576.5">34°N</text>
<text class="b e" x="1222" y="149.5">37°N</text><text class="s e" x="1222" y="219">30'</text><text class="b e" x="1222" y="291.5">36°N</text><text class="s e" x="1222" y="361.5">30'</text><text class="b e" x="1222" y="434">35°N</text><text class="s e" x="1222" y="503.5">30'</text><text class="b e" x="1222" y="576.5">34°N</text>
<text class="b e" x="68" y="749.5">37°N</text><text class="s e" x="68" y="819">30'</text><text class="b e" x="68" y="891.5">36°N</text><text class="s e" x="68" y="961.5">30'</text><text class="b e" x="68" y="1034">35°N</text><text class="s e" x="68" y="1103.5">30'</text><text class="b e" x="68" y="1176.5">34°N</text>
<text class="b e" x="451.3" y="749.5">37°N</text><text class="s e" x="451.3" y="819">30'</text><text class="b e" x="451.3" y="891.5">36°N</text><text class="s e" x="451.3" y="961.5">30'</text><text class="b e" x="451.3" y="1034">35°N</text><text class="s e" x="451.3" y="1103.5">30'</text><text class="b e" x="451.3" y="1176.5">34°N</text>
<text class="b e" x="837.3" y="749.5">37°N</text><text class="s e" x="837.3" y="819">30'</text><text class="b e" x="837.3" y="891.5">36°N</text><text class="s e" x="837.3" y="961.5">30'</text><text class="b e" x="837.3" y="1034">35°N</text><text class="s e" x="837.3" y="1103.5">30'</text><text class="b e" x="837.3" y="1176.5">34°N</text>
</g>

<!-- X labels -->
<g>
<text class="b m" x="77" y="590.3">77°W</text><text class="s m" x="133" y="588">30'</text><text class="b m" x="193" y="590.3">76°W</text><text class="s m" x="249" y="588">30'</text><text class="b m" x="309" y="590.3">75°W</text><text class="s m" x="365" y="588">30'</text><text class="b m" x="425" y="590.3">74°W</text>
<text class="b m" x="460.3" y="590.3">77°W</text><text class="s m" x="516.3" y="588">30'</text><text class="b m" x="576.3" y="590.3">76°W</text><text class="s m" x="632.3" y="588">30'</text><text class="b m" x="692.3" y="590.3">75°W</text><text class="s m" x="748.3" y="588">30'</text><text class="b m" x="808.3" y="590.3">74°W</text>
<text class="b m" x="846.3" y="590.3">77°W</text><text class="s m" x="902.3" y="588">30'</text><text class="b m" x="962.3" y="590.3">76°W</text><text class="s m" x="1018.3" y="588">30'</text><text class="b m" x="1078.3" y="590.3">75°W</text><text class="s m" x="1134.3" y="588">30'</text><text class="b m" x="1194.3" y="590.3">74°W</text>
<text class="b m" x="1231" y="590.3">77°W</text><text class="s m" x="1287" y="588">30'</text><text class="b m" x="1347" y="590.3">76°W</text><text class="s m" x="1403" y="588">30'</text><text class="b m" x="1463" y="590.3">75°W</text><text class="s m" x="1519" y="588">30'</text><text class="b m" x="1579" y="590.3">74°W</text>
<text class="b m" x="77" y="1190.3">77°W</text><text class="s m" x="133" y="1188">30'</text><text class="b m" x="193" y="1190.3">76°W</text><text class="s m" x="249" y="1188">30'</text><text class="b m" x="309" y="1190.3">75°W</text><text class="s m" x="365" y="1188">30'</text><text class="b m" x="425" y="1190.3">74°W</text>
<text class="b m" x="460.3" y="1190.3">77°W</text><text class="s m" x="516.3" y="1188">30'</text><text class="b m" x="576.3" y="1190.3">76°W</text><text class="s m" x="632.3" y="1188">30'</text><text class="b m" x="692.3" y="1190.3">75°W</text><text class="s m" x="748.3" y="1188">30'</text><text class="b m" x="808.3" y="1190.3">74°W</text>
<text class="b m" x="846.3" y="1190.3">77°W</text><text class="s m" x="902.3" y="1188">30'</text><text class="b m" x="962.3" y="1190.3">76°W</text><text class="s m" x="1018.3" y="1188">30'</text><text class="b m" x="1078.3" y="1190.3">75°W</text><text class="s m" x="1134.3" y="1188">30'</text><text class="b m" x="1194.3" y="1190.3">74°W</text>
</g>
</svg>
</body></html>
